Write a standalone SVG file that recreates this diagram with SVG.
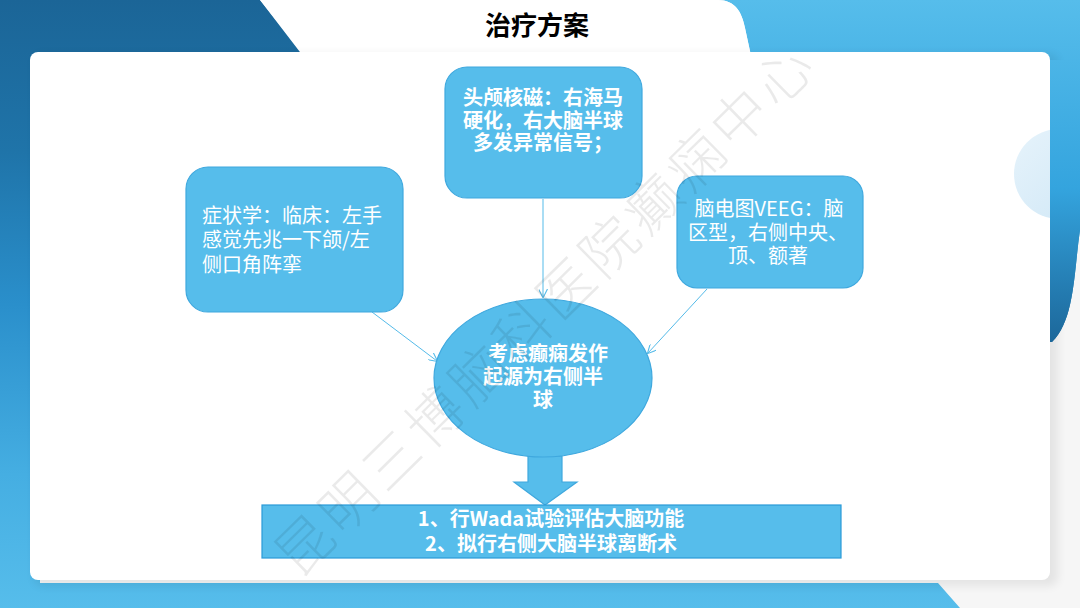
<svg xmlns="http://www.w3.org/2000/svg" width="1080" height="608" viewBox="0 0 1080 608">
<defs>
<linearGradient id="gl" x1="0" y1="0" x2="0" y2="608" gradientUnits="userSpaceOnUse">
<stop offset="0" stop-color="#1b6597"/><stop offset="0.25" stop-color="#1f74a9"/><stop offset="0.5" stop-color="#2a8fcb"/><stop offset="0.78" stop-color="#45aee2"/><stop offset="1" stop-color="#56bdeb"/>
</linearGradient>
<linearGradient id="gr" x1="0" y1="0" x2="0" y2="342" gradientUnits="userSpaceOnUse">
<stop offset="0" stop-color="#56bdeb"/><stop offset="0.55" stop-color="#34a4de"/><stop offset="1" stop-color="#1c679a"/>
</linearGradient>
<linearGradient id="gc" x1="0" y1="0" x2="1" y2="1">
<stop offset="0" stop-color="#e6f3fb"/><stop offset="1" stop-color="#cfe7f6"/>
</linearGradient>
<filter id="sh" x="-5%" y="-5%" width="110%" height="115%"><feGaussianBlur stdDeviation="5"/></filter>
<marker id="ah" viewBox="0 0 10 10" refX="9" refY="5" markerWidth="9" markerHeight="9" orient="auto" markerUnits="userSpaceOnUse">
<path d="M0,0 L10,5 L0,10" fill="none" stroke="#55bbe9" stroke-width="1.2"/>
</marker>
<style>
.box{fill:#56bdeb;stroke:#3fa8de;stroke-width:1.2}
.t{font-family:"Noto Sans CJK SC","Liberation Sans",sans-serif;font-size:20px;fill:#fff}
.b{font-weight:bold}
.con{stroke:#55bbe9;stroke-width:1;fill:none;marker-end:url(#ah)}
</style>
</defs>
<rect width="1080" height="608" fill="#f6f6f6"/>
<path d="M0,0 H260 L305,56 H40 V583 H938 L960,608 H0 Z" fill="url(#gl)"/>
<path d="M718,0 H1080 V230 C1074,270 1075,320 1052,342 H1045 V60 H752 L745,28 C742,12 735,0 718,0 Z" fill="url(#gr)"/>
<rect x="260" y="0" width="458" height="60" fill="#ffffff" opacity="0"/>
<path d="M260,0 H718 C735,0 742,12 745,28 L751,56 H303 Z" fill="#ffffff"/>
<rect x="34" y="54" width="1024" height="532" rx="8" fill="#000" opacity="0.07" filter="url(#sh)"/>
<rect x="30" y="52" width="1020" height="528" rx="8" fill="#ffffff"/>
<circle cx="1059" cy="174" r="45" fill="url(#gc)"/>
<path d="M1050,60 H1080 V230 C1074,270 1075,320 1052,342 H1050 Z" fill="url(#gr)"/>
<text x="537" y="35" text-anchor="middle" font-family="Noto Sans CJK SC,Liberation Sans,sans-serif" font-size="26" font-weight="bold" fill="#000">治疗方案</text>

<g id="connectors">
<line class="con" x1="372" y1="312" x2="437" y2="361"/>
<line class="con" x1="543" y1="199" x2="543" y2="297"/>
<line class="con" x1="707" y1="289" x2="648" y2="353"/>
<path d="M528,456 H562 V482 H577 L545,505 L514,482 H528 Z" class="box"/>
</g>

<g id="n-symptom">
<rect class="box" x="186" y="167" width="217" height="145" rx="22"/>
<text class="t" x="202"><tspan x="202" y="223">症状学：临床：左手</tspan><tspan x="202" y="247">感觉先兆一下颌/左</tspan><tspan x="202" y="272">侧口角阵挛</tspan></text>
</g>
<g id="n-mri">
<rect class="box" x="445" y="67" width="197" height="131" rx="22"/>
<text class="t b" text-anchor="middle"><tspan x="543" y="105">头颅核磁：右海马</tspan><tspan x="543" y="128">硬化，右大脑半球</tspan><tspan x="543" y="150">多发异常信号；</tspan></text>
</g>
<g id="n-eeg">
<rect class="box" x="677" y="176" width="186" height="112" rx="20"/>
<text class="t" text-anchor="middle"><tspan x="769" y="216">脑电图VEEG：脑</tspan><tspan x="768" y="240">区型，右侧中央、</tspan><tspan x="768" y="263">顶、额著</tspan></text>
</g>
<g id="n-conclusion">
<ellipse class="box" cx="543" cy="378" rx="109" ry="79"/>
<text class="t b" text-anchor="middle"><tspan x="548" y="361">考虑癫痫发作</tspan><tspan x="543" y="384">起源为右侧半</tspan><tspan x="543" y="407">球</tspan></text>
</g>
<g id="n-plan">
<rect x="262" y="505" width="579" height="53" fill="#56bdeb" stroke="#2a9ad8" stroke-width="1.2"/>
<text class="t b" text-anchor="middle"><tspan x="551" y="526">1、行Wada试验评估大脑功能</tspan><tspan x="551" y="551">2、拟行右侧大脑半球离断术</tspan></text>
</g>
<text transform="translate(546,309) rotate(-44.5)" x="0" y="20" text-anchor="middle" font-family="Noto Sans CJK SC,sans-serif" font-size="56" font-weight="300" letter-spacing="5" fill="#000" opacity="0.08">昆明三博脑科医院癫痫中心</text>
</svg>
